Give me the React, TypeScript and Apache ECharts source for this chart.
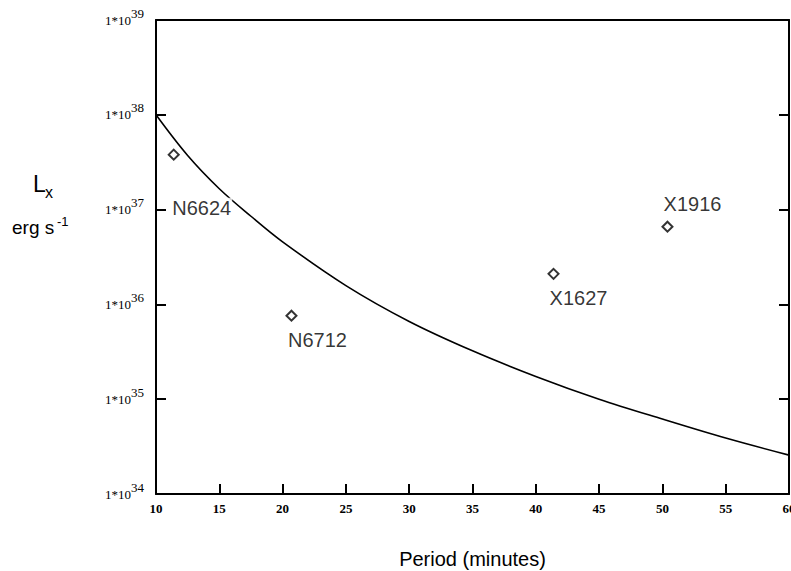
import React, { useEffect, useRef } from "react";
import * as echarts from "echarts";

// Model curve (period in minutes, Lx in erg/s)
const curvePeriods = [10, 12.5, 15, 17.5, 20, 25, 30, 35, 40, 45, 50, 55, 60];
const curveLx = [1e38, 3.72e37, 1.66e37, 8.51e36, 4.57e36, 1.58e36, 6.61e35, 3.24e35, 1.74e35, 1.0e35, 6.17e34, 3.89e34, 2.57e34];

// Observed sources
const sourceNames = ["N6624", "N6712", "X1627", "X1916"];
const sourcePeriods = [11.4, 20.7, 41.4, 50.4];
const sourceLx = [3.8e37, 7.6e35, 2.1e36, 6.6e36];
const labelOffsets = [[28, 53], [26, 24], [25, 24], [25, -23]];

const xTicks = { min: 10, max: 60, interval: 5 };
const yRange = { min: 1e34, max: 1e39 };

export default function App() {
  const ref = useRef<HTMLDivElement>(null);
  useEffect(() => {
    if (!ref.current) return;
    const chart = echarts.init(ref.current, null, { renderer: "svg" });
    const serif = "Liberation Serif";
    const sans = "Liberation Sans";
    const yLabel = (v: number) => `{b|1*10}{s|${Math.round(Math.log10(v))}}`;
    const yRich = {
      b: { fontFamily: serif, fontSize: 13, color: "#000", verticalAlign: "bottom", lineHeight: 13 },
      s: { fontFamily: serif, fontSize: 13, color: "#000", verticalAlign: "bottom", lineHeight: 13, padding: [0, 0, 7, 0] },
    };
    chart.setOption({
      animation: false,
      backgroundColor: "#fff",
      grid: { left: 156, right: 2, top: 20, bottom: 77, outerBoundsMode: "none", containLabel: false },
      xAxis: [
        {
          type: "value",
          min: xTicks.min,
          max: xTicks.max,
          interval: xTicks.interval,
          name: "Period (minutes)",
          nameLocation: "middle",
          nameGap: 55,
          nameTextStyle: { fontFamily: sans, fontSize: 20, color: "#000", lineHeight: 20 },
          axisLine: { show: true, lineStyle: { color: "#000", width: 2 } },
          axisTick: { show: true, inside: true, length: 10, lineStyle: { color: "#000", width: 2 } },
          axisLabel: { fontFamily: serif, fontWeight: "bold", fontSize: 13, color: "#000", margin: 8, showMinLabel: true, showMaxLabel: true },
          splitLine: { show: false },
        },
        {
          type: "value",
          position: "top",
          min: xTicks.min,
          max: xTicks.max,
          interval: xTicks.interval,
          axisLine: { show: true, lineStyle: { color: "#000", width: 2 } },
          axisTick: { show: false },
          axisLabel: { show: false },
          splitLine: { show: false },
        },
      ],
      yAxis: [
        {
          type: "log",
          logBase: 10,
          min: yRange.min,
          max: yRange.max,
          axisLine: { show: true, lineStyle: { color: "#000", width: 2 } },
          axisTick: { show: true, inside: true, length: 10, lineStyle: { color: "#000", width: 2 } },
          axisLabel: { formatter: yLabel, rich: yRich, margin: 12, color: "#000" },
          splitLine: { show: false },
          minorTick: { show: false },
        },
        {
          type: "log",
          logBase: 10,
          position: "right",
          min: yRange.min,
          max: yRange.max,
          axisLine: { show: true, lineStyle: { color: "#000", width: 2 } },
          axisTick: { show: true, inside: true, length: 10, lineStyle: { color: "#000", width: 2 } },
          axisLabel: { show: false },
          splitLine: { show: false },
        },
      ],
      graphic: [
        { type: "text", left: 33, top: 172, style: { text: "L", fontFamily: sans, fontSize: 23, fill: "#000" } },
        { type: "text", left: 45, top: 184, style: { text: "x", fontFamily: sans, fontSize: 16, fill: "#000" } },
        { type: "text", left: 12, top: 218, style: { text: "erg s", fontFamily: sans, fontSize: 19, fill: "#000" } },
        { type: "text", left: 57, top: 215, style: { text: "-1", fontFamily: sans, fontSize: 13, fill: "#000" } },
      ],
      series: [
        {
          type: "line",
          data: curvePeriods.map((p, i) => [p, curveLx[i]]),
          smooth: 0.35,
          showSymbol: false,
          symbol: "none",
          lineStyle: { color: "#000", width: 1.6 },
          z: 2,
        },
        {
          type: "scatter",
          symbol: "diamond",
          symbolSize: 10,
          itemStyle: { color: "#fff", borderColor: "#000", borderWidth: 2 },
          z: 5,
          data: sourceNames.map((n, i) => ({
            name: n,
            value: [sourcePeriods[i], sourceLx[i]],
            label: {
              show: true,
              position: "inside",
              offset: labelOffsets[i],
              formatter: n,
              fontFamily: sans,
              fontSize: 20,
              color: "#000",
              backgroundColor: "#fff",
              padding: [0, 1],
              textBorderWidth: 0,
            },
          })),
        },
      ],
    });
    return () => chart.dispose();
  }, []);
  return <div ref={ref} style={{ position: "fixed", left: 0, top: 0, width: 791, height: 571 }} />;
}
